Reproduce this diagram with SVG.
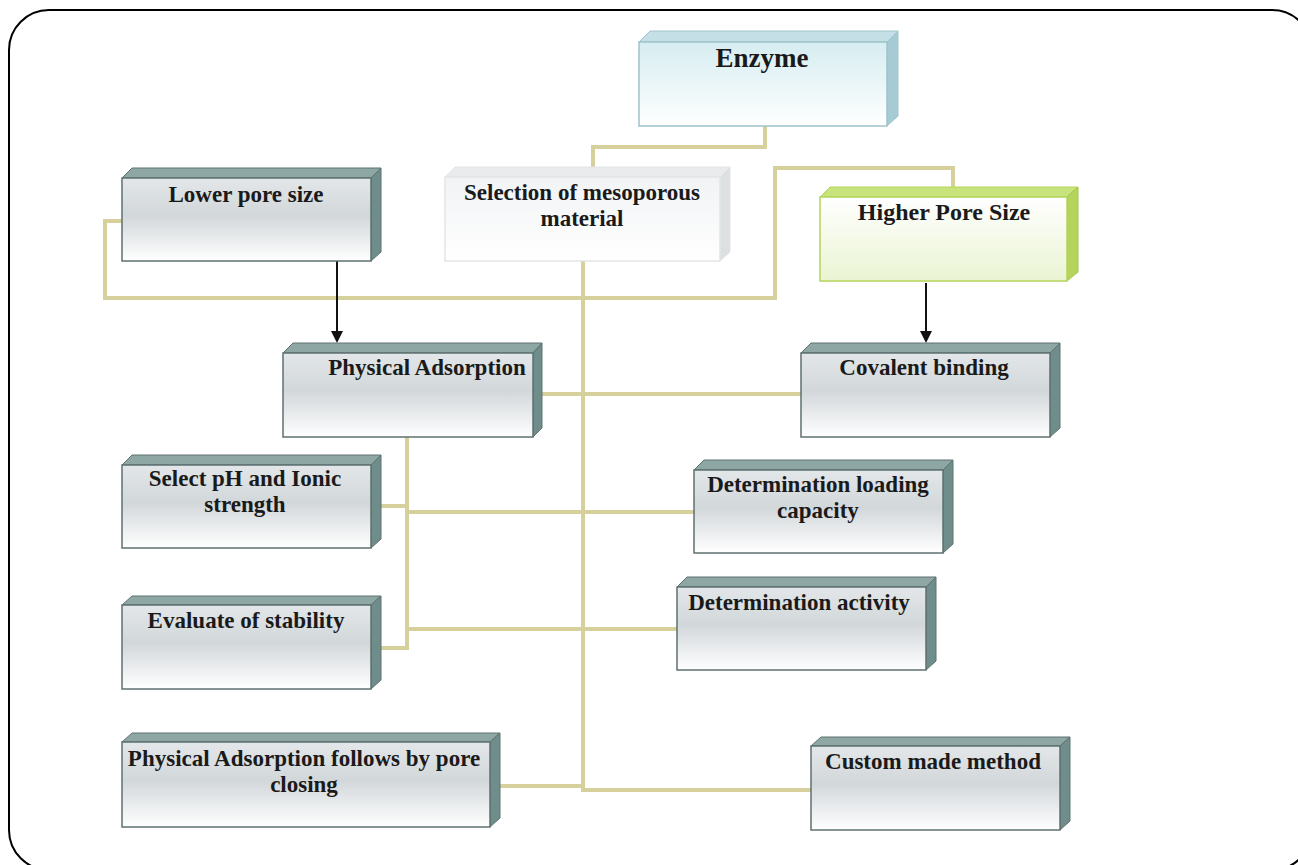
<svg xmlns="http://www.w3.org/2000/svg" width="1298" height="865" viewBox="0 0 1298 865">
<defs>
<linearGradient id="gGrey" x1="0" y1="0" x2="0" y2="1">
<stop offset="0" stop-color="#e3e7e9"/>
<stop offset="0.45" stop-color="#d2d7da"/>
<stop offset="1" stop-color="#ffffff"/>
</linearGradient>
<linearGradient id="gBlue" x1="0" y1="0" x2="0" y2="1">
<stop offset="0" stop-color="#d6edf1"/>
<stop offset="1" stop-color="#ffffff"/>
</linearGradient>
<linearGradient id="gPale" x1="0" y1="0" x2="0" y2="1">
<stop offset="0" stop-color="#f1f3f4"/>
<stop offset="1" stop-color="#ffffff"/>
</linearGradient>
<linearGradient id="gGreen" x1="0" y1="0" x2="0" y2="1">
<stop offset="0" stop-color="#ffffff"/>
<stop offset="1" stop-color="#eaf4d2"/>
</linearGradient>
<marker id="arr" markerWidth="12" markerHeight="12" refX="10" refY="6" orient="auto" markerUnits="userSpaceOnUse">
<path d="M0,0 L12,6 L0,12 Z" fill="#111"/>
</marker>
</defs>
<style>
.grey .front{fill:url(#gGrey);stroke:#5e7270;stroke-width:1.5}
.grey .top{fill:#8ea7a5;stroke:#5e7270;stroke-width:1}
.grey .side{fill:#6f8d8a;stroke:#5e7270;stroke-width:1}
.blue .front{fill:url(#gBlue);stroke:#9fc4cc;stroke-width:1.5}
.blue .top{fill:#c4e0e6;stroke:#9fc4cc;stroke-width:1}
.blue .side{fill:#a7cbd4;stroke:#9fc4cc;stroke-width:1}
.pale .front{fill:url(#gPale);stroke:#e2e5e6;stroke-width:1.5}
.pale .top{fill:#e9ebec;stroke:#e2e5e6;stroke-width:1}
.pale .side{fill:#dde0e1;stroke:#e2e5e6;stroke-width:1}
.green .front{fill:url(#gGreen);stroke:#b4d45a;stroke-width:1.5}
.green .top{fill:#c9e37c;stroke:#b4d45a;stroke-width:1}
.green .side{fill:#b4d45e;stroke:#a4c44a;stroke-width:1}
text{font-family:"Liberation Serif","Times New Roman",serif;font-weight:bold;font-size:23px;fill:#1a1a1a;text-anchor:middle}
.conn{fill:none;stroke:#d6d19c;stroke-width:4}
.arrow{fill:none;stroke:#111;stroke-width:2}
</style>
<rect x="9" y="10" width="1303" height="860" rx="40" ry="40" fill="#fff" stroke="#000" stroke-width="2"/>

<g id="connectors">
<polyline class="conn" points="765,126 765,147 593,147 593,167"/>
<polyline class="conn" points="953,187 953,168 775,168 775,298 105,298 105,221 122,221"/>
<polyline class="conn" points="583,261 583,790 811,790"/>
<polyline class="conn" points="500,786 583,786"/>
<polyline class="conn" points="542,394 801,394"/>
<polyline class="conn" points="407,437 407,648 381,648"/>
<polyline class="conn" points="381,506 407,506"/>
<polyline class="conn" points="407,512 694,512"/>
<polyline class="conn" points="407,629 677,629"/>
<line class="arrow" x1="337" y1="258" x2="337" y2="341" marker-end="url(#arr)"/>
<line class="arrow" x1="926" y1="283" x2="926" y2="341" marker-end="url(#arr)"/>
</g>

<g id="enzyme" class="blue">
<polygon class="top" points="639,42 650,31 898,31 887,42"/>
<polygon class="side" points="887,42 898,31 898,116 887,126"/>
<rect class="front" x="639" y="42" width="248" height="84"/>
<text x="762" y="67" style="font-size:27px">Enzyme</text>
</g>

<g id="selection" class="pale">
<polygon class="top" points="445,177 455,167 730,167 720,177"/>
<polygon class="side" points="720,177 730,167 730,252 720,261"/>
<rect class="front" x="445" y="177" width="275" height="84"/>
<text x="582" y="200">Selection of mesoporous</text>
<text x="582" y="226">material</text>
</g>

<g id="lower" class="grey">
<polygon class="top" points="122,178 132,168 381,168 371,178"/>
<polygon class="side" points="371,178 381,168 381,252 371,261"/>
<rect class="front" x="122" y="178" width="249" height="83"/>
<text x="246" y="202">Lower pore size</text>
</g>

<g id="higher" class="green">
<polygon class="top" points="820,197 830,187 1078,187 1067,197"/>
<polygon class="side" points="1067,197 1078,187 1078,272 1067,281"/>
<rect class="front" x="820" y="197" width="247" height="84"/>
<text x="944" y="220" style="font-size:24px">Higher Pore Size</text>
</g>

<g id="physical" class="grey">
<polygon class="top" points="283,353 293,343 542,343 533,353"/>
<polygon class="side" points="533,353 542,343 542,428 533,437"/>
<rect class="front" x="283" y="353" width="250" height="84"/>
<text x="427" y="375">Physical Adsorption</text>
</g>

<g id="covalent" class="grey">
<polygon class="top" points="801,353 811,343 1060,343 1050,353"/>
<polygon class="side" points="1050,353 1060,343 1060,428 1050,437"/>
<rect class="front" x="801" y="353" width="249" height="84"/>
<text x="924" y="375">Covalent binding</text>
</g>

<g id="selectph" class="grey">
<polygon class="top" points="122,465 132,455 381,455 371,465"/>
<polygon class="side" points="371,465 381,455 381,539 371,548"/>
<rect class="front" x="122" y="465" width="249" height="83"/>
<text x="245" y="486">Select pH and Ionic</text>
<text x="245" y="512">strength</text>
</g>

<g id="loading" class="grey">
<polygon class="top" points="694,470 704,460 953,460 943,470"/>
<polygon class="side" points="943,470 953,460 953,544 943,553"/>
<rect class="front" x="694" y="470" width="249" height="83"/>
<text x="818" y="492">Determination loading</text>
<text x="818" y="518">capacity</text>
</g>

<g id="stability" class="grey">
<polygon class="top" points="122,605 132,596 381,596 371,605"/>
<polygon class="side" points="371,605 381,596 381,680 371,689"/>
<rect class="front" x="122" y="605" width="249" height="84"/>
<text x="246" y="628">Evaluate of stability</text>
</g>

<g id="activity" class="grey">
<polygon class="top" points="677,587 687,577 936,577 926,587"/>
<polygon class="side" points="926,587 936,577 936,661 926,670"/>
<rect class="front" x="677" y="587" width="249" height="83"/>
<text x="799" y="610">Determination activity</text>
</g>

<g id="poreclosing" class="grey">
<polygon class="top" points="122,742 132,733 500,733 490,742"/>
<polygon class="side" points="490,742 500,733 500,818 490,827"/>
<rect class="front" x="122" y="742" width="368" height="85"/>
<text x="304" y="766">Physical Adsorption follows by pore</text>
<text x="304" y="792">closing</text>
</g>

<g id="custom" class="grey">
<polygon class="top" points="811,746 821,737 1070,737 1060,746"/>
<polygon class="side" points="1060,746 1070,737 1070,821 1060,830"/>
<rect class="front" x="811" y="746" width="249" height="84"/>
<text x="933" y="769">Custom made method</text>
</g>
</svg>
